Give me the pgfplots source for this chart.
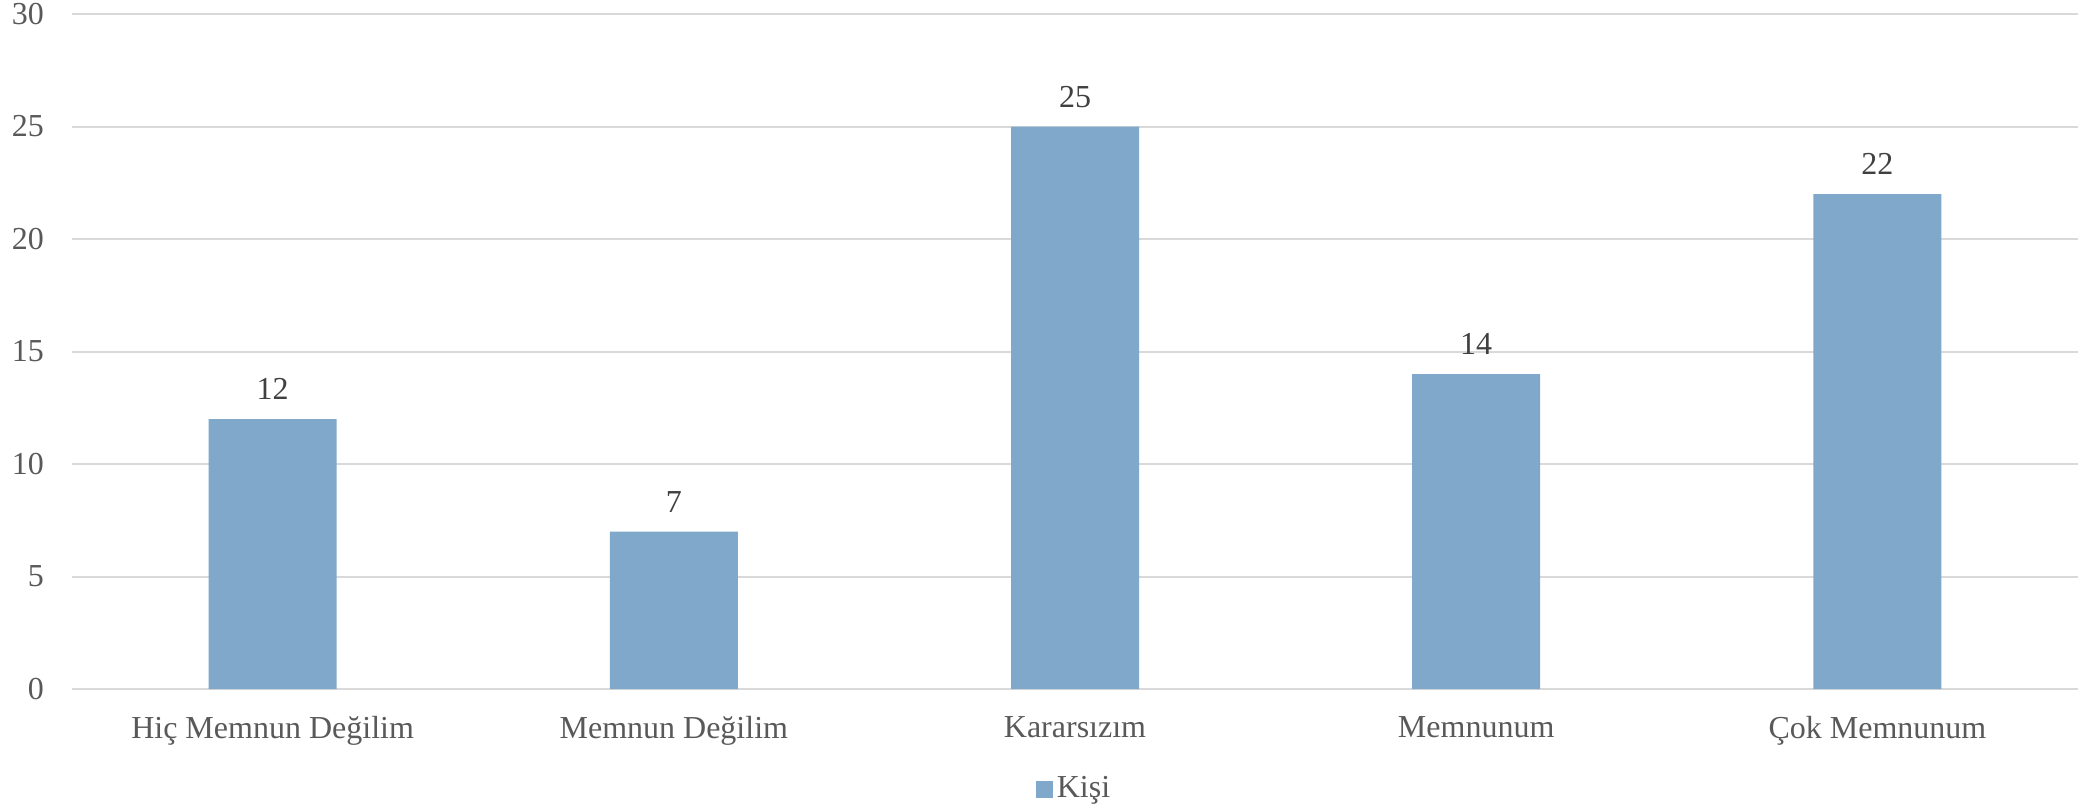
\documentclass[border=0pt]{standalone}
\usepackage{fontspec}
\setmainfont{Liberation Serif}
\usepackage{pgfplots}
\pgfplotsset{compat=1.18}
\definecolor{barblue}{HTML}{7FA8CA}
\definecolor{gridgray}{HTML}{D9D9D9}
\definecolor{txtgray}{HTML}{595959}
\begin{document}
\fontsize{16pt}{19pt}\selectfont
\begin{tikzpicture}
\begin{axis}[
  scale only axis,
  width=1003pt, height=337.5pt,
  xmin=-0.5, xmax=4.5,
  ymin=0, ymax=30,
  ytick={0,5,...,30},
  xtick=data,
  xticklabels={Hiç Memnun Değilim, Memnun Değilim, Kararsızım, Memnunum, Çok Memnunum},
  axis line style={draw=none},
  major tick length=0pt,
  ymajorgrids,
  grid style={gridgray, line width=1pt},
  tick label style={font=\fontsize{16pt}{19pt}\selectfont, text=txtgray},
  /pgf/number format/assume math mode=true,
  yticklabel style={xshift=-8.5pt},
  xticklabel style={yshift=-8pt},
  nodes near coords,
  every node near coord/.append style={font=\fontsize{16pt}{19pt}\selectfont, text=black!75, yshift=4pt},
  legend style={at={(0.5,0)}, anchor=center, yshift=-50pt, draw=none,
    font=\fontsize{16pt}{19pt}\selectfont, text=txtgray, inner sep=0pt},
  legend image code/.code={\fill[#1] (0pt,-4.25pt) rectangle (8.5pt,4.25pt);},
  clip=false,
]
\addplot[ybar, bar width=64pt, fill=barblue, draw=none] coordinates {(0,12) (1,7) (2,25) (3,14) (4,22)};
\addlegendentry{Kişi}
\path (rel axis cs:0,0) ++(-36pt,-60pt) coordinate (bl);
\path (rel axis cs:1,1) ++(7pt,7pt) coordinate (tr);
\end{axis}
\pgfresetboundingbox
\useasboundingbox (bl) rectangle (tr);
\end{tikzpicture}
\end{document}
